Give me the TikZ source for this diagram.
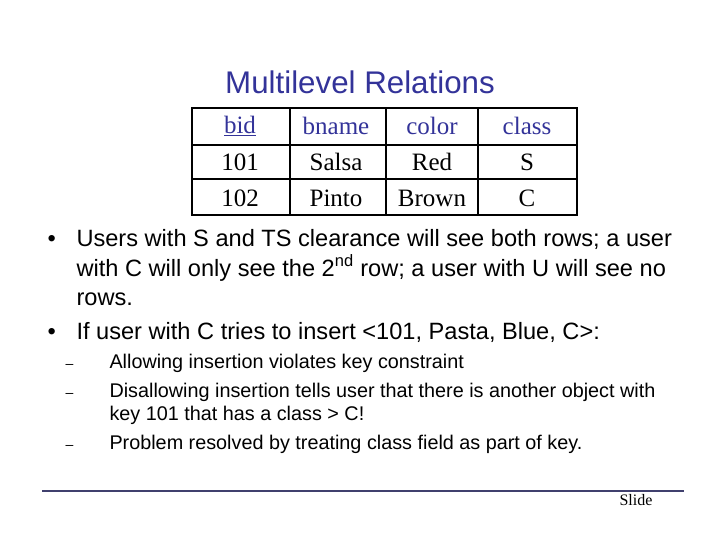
\documentclass[tikz,border=0pt]{standalone}
\usepackage{fontspec}
\setmainfont{Liberation Sans}
\newfontfamily\serf{Liberation Serif}
\definecolor{ttl}{RGB}{51,51,153}
\definecolor{rule}{RGB}{64,64,110}
\begin{document}
\begin{tikzpicture}[x=1pt,y=-1pt,
  cell/.style={font=\serf\fontsize{25}{28}\selectfont,anchor=center},
  hd/.style={cell,text=ttl},
  bl/.style={anchor=base west,font=\fontsize{23.6}{28}\selectfont},
  sb/.style={anchor=base west,font=\fontsize{19.8}{23}\selectfont}]
\useasboundingbox (0,0) rectangle (720,540);
\node[font=\fontsize{31.3}{36}\selectfont,text=ttl] (title) at (360,82) {Multilevel Relations};
\draw[line width=1.5pt] (192,108) rectangle (577,215);
\foreach \x in {290,386,478} \draw[line width=1.5pt] (\x,108) -- (\x,215);
\foreach \y in {145,179} \draw[line width=1.5pt] (192,\y) -- (577,\y);
\node[hd] (h1) at (240,126) {\underline{bid}};
\node[hd] (h2) at (336,126) {bname};
\node[hd] (h3) at (432,126) {color};
\node[hd] (h4) at (527,126) {class};
\node[cell] (a1) at (240,162) {101};
\node[cell] (a2) at (336,162) {Salsa};
\node[cell] (a3) at (432,162) {Red};
\node[cell] (a4) at (527,162) {S};
\node[cell] (b1) at (240,198) {102};
\node[cell] (b2) at (336,198) {Pinto};
\node[cell] (b3) at (432,198) {Brown};
\node[cell] (b4) at (527,198) {C};
\node[bl] (d1) at (44,246) {•};
\node[bl] (t1) at (73,246) {Users with S and TS clearance will see both rows; a user};
\node[bl] (t2) at (73,276) {with C will only see the 2\textsuperscript{nd} row; a user with U will see no};
\node[bl] (t3) at (73,305) {rows.};
\node[bl] (d2) at (44,339) {•};
\node[bl] (t4) at (73,339) {If user with C tries to insert <101, Pasta, Blue, C>:};
\foreach \n/\y in {s1/368,s2/397,s3/449} \node[sb,font=\fontsize{14}{16}\selectfont] (\n) at (62,\y) {–};
\node[sb] (u1) at (106,368) {Allowing insertion violates key constraint};
\node[sb] (u2) at (106,397) {Disallowing insertion tells user that there is another object with};
\node[sb] (u3) at (106,420) {key 101 that has a class > C!};
\node[sb] (u4) at (106,449) {Problem resolved by treating class field as part of key.};
\draw[rule,line width=2pt] (42,491) -- (684,491);
\node[font=\serf\fontsize{16}{18}\selectfont] (sl) at (636,500) {Slide};
\end{tikzpicture}
\end{document}
